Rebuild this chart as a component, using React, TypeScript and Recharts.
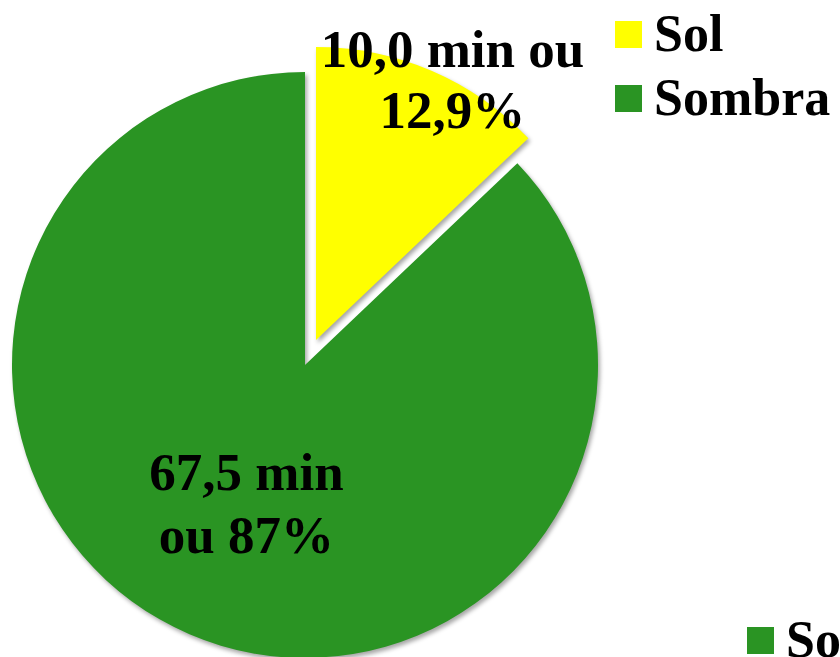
import React from "react";
import { PieChart, Pie, Cell } from "recharts";

const categories = ["Sol", "Sombra"];
const minutes = [10.0, 67.5];
const labelLines = [
  ["10,0 min ou", "12,9%"],
  ["67,5 min", "ou 87%"],
];
const colors = ["#ffff00", "#2a9423"];

const data = categories.map((name, i) => ({ name, value: minutes[i] }));

const FONT = "'Liberation Serif', 'Times New Roman', serif";
const RAD = Math.PI / 180;
const SHADOW = "drop-shadow(2px 3px 2px rgba(0,0,0,0.35))";

const labelStyle: Record<number, { r: number; dx: number; dy: number; gap: number }> = {
  0: { r: 0.8, dx: 44, dy: -58, gap: 61 },
  1: { r: 0.55, dx: 5, dy: -23, gap: 63 },
};

const makeLabel = (only: number) => (props: any) => {
  const { cx, cy, midAngle, outerRadius, index } = props;
  if (index !== only) return null;
  const s = labelStyle[index];
  const x = cx + outerRadius * s.r * Math.cos(-midAngle * RAD) + s.dx;
  const y = cy + outerRadius * s.r * Math.sin(-midAngle * RAD) + s.dy;
  return (
    <text
      x={x}
      y={y}
      textAnchor="middle"
      fill="#000"
      style={{ fontFamily: FONT, fontWeight: "bold", fontSize: 53 }}
    >
      <tspan x={x} y={y}>{labelLines[index][0]}</tspan>
      <tspan x={x} y={y + s.gap}>{labelLines[index][1]}</tspan>
    </text>
  );
};

export default function App() {
  return (
    <div
      style={{
        position: "absolute",
        left: 0,
        top: 0,
        width: 840,
        height: 657,
        overflow: "hidden",
        background: "#fff",
      }}
    >
      <PieChart width={840} height={657} margin={{ top: 0, right: 0, bottom: 0, left: 0 }}>
        <Pie
          data={data}
          dataKey="value"
          nameKey="name"
          cx={305}
          cy={365}
          outerRadius={293}
          startAngle={90}
          endAngle={-270}
          stroke="none"
          label={makeLabel(1)}
          labelLine={false}
          isAnimationActive={false}
        >
          {data.map((d, i) => (
            <Cell
              key={d.name}
              fill={i === 1 ? colors[i] : "transparent"}
              style={i === 1 ? { filter: SHADOW } : undefined}
            />
          ))}
        </Pie>
        <Pie
          data={data}
          dataKey="value"
          nameKey="name"
          cx={316}
          cy={340}
          outerRadius={293}
          startAngle={90}
          endAngle={-270}
          stroke="none"
          label={makeLabel(0)}
          labelLine={false}
          isAnimationActive={false}
        >
          {data.map((d, i) => (
            <Cell
              key={d.name}
              fill={i === 0 ? colors[i] : "transparent"}
              style={i === 0 ? { filter: SHADOW } : undefined}
            />
          ))}
        </Pie>
      </PieChart>
      <div style={{ position: "absolute", left: 615, top: 2, fontFamily: FONT, fontWeight: "bold", fontSize: 52 }}>
        {categories.map((c, i) => (
          <div key={c} style={{ display: "flex", alignItems: "center", height: 64, lineHeight: "64px" }}>
            <span style={{ width: 27, height: 27, background: colors[i], display: "inline-block", marginRight: 12 }} />
            <span>{c}</span>
          </div>
        ))}
      </div>
      <div
        style={{
          position: "absolute",
          left: 747,
          top: 608,
          fontFamily: FONT,
          fontWeight: "bold",
          fontSize: 52,
          whiteSpace: "nowrap",
          display: "flex",
          alignItems: "center",
          height: 64,
          lineHeight: "64px",
        }}
      >
        <span style={{ width: 27, height: 27, background: colors[1], display: "inline-block", marginRight: 12 }} />
        <span>{categories[1]}</span>
      </div>
    </div>
  );
}
